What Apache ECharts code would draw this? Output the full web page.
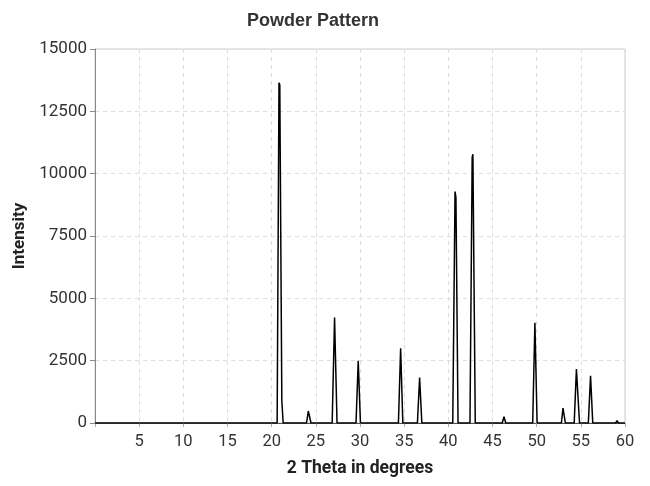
<!DOCTYPE html>
<html>
<head>
<meta charset="utf-8">
<script src="https://cdn.jsdelivr.net/npm/echarts@6/dist/echarts.min.js"></script>
<style>html,body{margin:0;padding:0;background:#fff}#c{width:650px;height:486px}</style>
</head>
<body>
<div id="c"></div>
<script>
var titleText = 'Powder Pattern';
var xAxisName = '2 Theta in degrees';
var yAxisName = 'Intensity';
var xTicks = [0, 5, 10, 15, 20, 25, 30, 35, 40, 45, 50, 55, 60];
var yTicks = [0, 2500, 5000, 7500, 10000, 12500, 15000];

var twoTheta = [0,
  20.62, 20.83, 20.92, 21.15, 21.3,
  23.95, 24.15, 24.25, 24.45,
  26.85, 27.12, 27.4,
  29.55, 29.8, 30.05,
  34.35, 34.6, 34.85,
  36.5, 36.75, 37.0,
  40.5, 40.76, 40.86, 41.1,
  42.45, 42.7, 42.78, 43.05,
  46.1, 46.3, 46.5,
  49.55, 49.8, 50.05,
  52.8, 52.98, 53.05, 53.25,
  54.25, 54.5, 54.6, 54.85,
  55.85, 56.1, 56.35,
  58.95, 59.1, 59.25,
  60];
var intensity = [0,
  0, 13650, 13560, 900, 0,
  0, 480, 470, 0,
  0, 4230, 0,
  0, 2500, 0,
  0, 3000, 0,
  0, 1820, 0,
  0, 9280, 9050, 0,
  0, 10650, 10780, 0,
  0, 250, 0,
  0, 4020, 0,
  0, 600, 640, 0,
  0, 2160, 2080, 0,
  0, 1890, 0,
  0, 90, 0,
  0];

var data = twoTheta.map(function (x, i) { return [x, intensity[i]]; });

var chart = echarts.init(document.getElementById('c'), null, {renderer: 'canvas'});
chart.setOption({
  animation: false,
  backgroundColor: '#fff',
  title: {
    text: titleText,
    left: 242, top: 7,
    textStyle: {fontFamily: 'Liberation Sans', fontWeight: 'bold', fontSize: 18, color: '#333'}
  },
  grid: {
    left: 95, right: 25, top: 49, bottom: 63,
    show: true, borderColor: '#ccc', borderWidth: 1, backgroundColor: 'transparent'
  },
  xAxis: {
    type: 'value',
    min: xTicks[0], max: xTicks[xTicks.length - 1], interval: 5,
    name: xAxisName, nameLocation: 'middle', nameGap: 37,
    nameTextStyle: {fontFamily: 'Roboto', fontWeight: 'bold', fontSize: 17.5, color: '#222'},
    axisLine: {lineStyle: {color: '#555'}},
    axisTick: {show: true, length: 4, lineStyle: {color: '#aaa'}},
    axisLabel: {
      fontFamily: 'Roboto', fontSize: 16.5, color: '#333', margin: 10,
      formatter: function (v) { return v === 0 ? '' : String(v); }
    },
    splitLine: {show: true, lineStyle: {color: '#ddd', type: [4, 4]}}
  },
  yAxis: {
    type: 'value',
    min: yTicks[0], max: yTicks[yTicks.length - 1], interval: 2500,
    name: yAxisName, nameLocation: 'middle', nameGap: 67, nameRotate: 90,
    nameTextStyle: {fontFamily: 'Roboto', fontWeight: 'bold', fontSize: 17, color: '#222'},
    axisLine: {show: true, lineStyle: {color: '#888'}},
    axisTick: {show: true, length: 5, lineStyle: {color: '#888'}},
    axisLabel: {
      fontFamily: 'Roboto', fontSize: 17, color: '#333', margin: 8,
      formatter: function (v) { return String(v); }
    },
    splitLine: {show: true, lineStyle: {color: '#ddd', type: [4, 4]}}
  },
  series: [{
    type: 'line',
    data: data,
    showSymbol: false,
    symbol: 'none',
    lineStyle: {color: '#000', width: 1.5},
    z: 3
  }]
});
</script>
</body>
</html>
